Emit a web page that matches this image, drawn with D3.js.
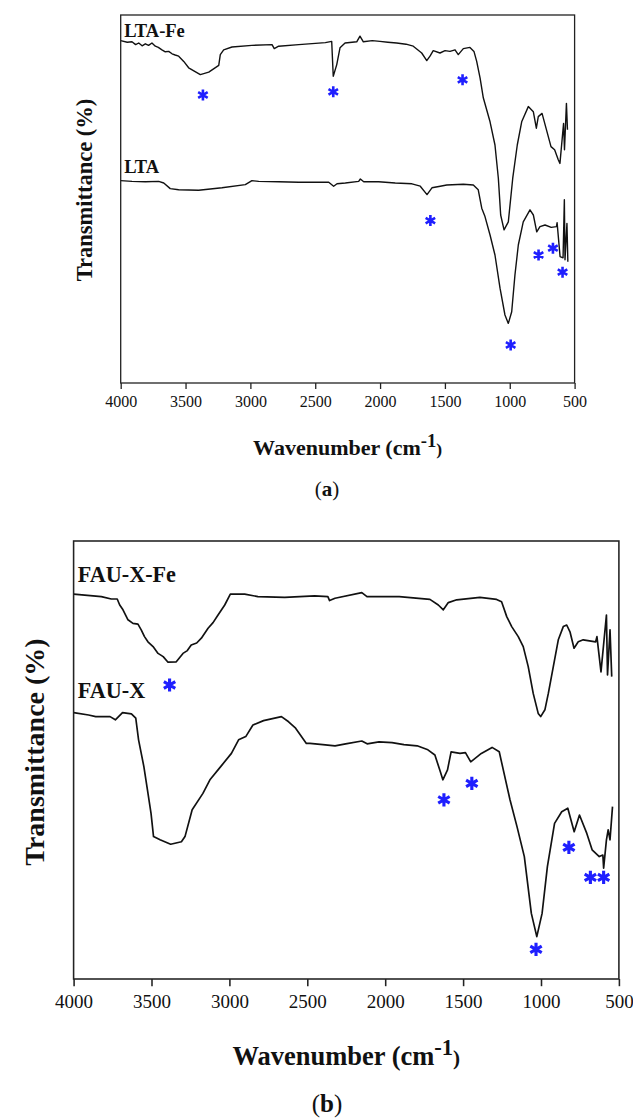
<!DOCTYPE html>
<html>
<head>
<meta charset="utf-8">
<script src="https://cdn.jsdelivr.net/npm/d3@7"></script>
<style>
    body { margin: 0; background: white; }
    svg { display: block; }
    text { font-family: "Liberation Serif", "Times New Roman", serif; fill: #111; }
</style>
</head>
<body>
<svg id="figure" width="633" height="1120"></svg>
<script>
// ---------- data (wavenumber in cm-1, transmittance in arbitrary units) ----------
const ltaFeWave = [4000, 3950, 3913, 3885, 3861, 3835, 3810, 3785, 3759, 3733, 3710, 3682, 3656, 3630, 3604, 3580, 3553, 3514, 3476, 3386, 3321, 3244, 3232, 3206, 3142, 2988, 2833, 2816, 2782, 2627, 2422, 2373, 2361, 2334, 2309, 2270, 2180, 2155, 2129, 2060, 2001, 1940, 1872, 1800, 1744, 1679, 1640, 1615, 1590, 1538, 1499, 1461, 1422, 1397, 1358, 1307, 1276, 1255, 1229, 1204, 1152, 1114, 1088, 1070, 1044, 1011, 977, 942, 908, 857, 818, 795, 780, 751, 682, 654, 626, 613, 585, 578, 563, 555];
const ltaFeT = [85.6, 85.2, 85.3, 84.6, 85.0, 84.3, 84.8, 84.4, 85.0, 84.2, 83.9, 83.3, 82.8, 82.9, 82.3, 82.0, 81.7, 80.4, 78.8, 77.1, 77.7, 79.4, 82.1, 83.3, 84.0, 84.4, 84.6, 83.6, 84.2, 84.6, 85.1, 85.4, 76.7, 79.6, 83.8, 85.0, 85.3, 86.7, 85.3, 85.6, 85.4, 85.2, 85.0, 84.7, 84.2, 82.5, 80.6, 81.7, 83.1, 82.5, 83.1, 82.9, 83.3, 82.1, 83.6, 83.9, 82.9, 80.4, 76.3, 71.3, 65.3, 59.5, 51.2, 42.0, 38.3, 40.3, 51.2, 59.5, 65.3, 69.1, 67.8, 63.7, 66.6, 67.4, 59.1, 58.3, 55.8, 54.9, 64.9, 58.3, 69.9, 63.3];

const ltaWave = [4000, 3913, 3810, 3707, 3668, 3618, 3553, 3399, 3219, 3039, 2988, 2936, 2782, 2627, 2396, 2358, 2332, 2268, 2165, 2152, 2126, 2011, 1883, 1754, 1690, 1638, 1600, 1536, 1486, 1358, 1281, 1243, 1216, 1191, 1152, 1114, 1075, 1037, 1011, 985, 960, 934, 896, 844, 818, 792, 767, 728, 680, 640, 635, 612, 589, 579, 574, 559, 552];
const ltaT = [50.6, 50.4, 50.3, 50.4, 50.0, 48.6, 48.3, 48.2, 48.8, 49.6, 50.6, 50.4, 50.3, 50.2, 50.2, 49.2, 49.8, 50.0, 50.4, 51.0, 50.3, 50.3, 50.0, 49.8, 49.2, 47.1, 48.8, 49.2, 49.5, 49.7, 49.5, 48.3, 43.7, 41.6, 37.0, 32.0, 23.7, 17.0, 14.9, 17.8, 27.0, 34.5, 40.3, 43.3, 42.0, 37.8, 39.1, 39.5, 38.9, 39.1, 40.1, 31.6, 31.3, 45.8, 30.8, 39.9, 30.3];

const fauXFeWave = [4000, 3822, 3758, 3720, 3704, 3683, 3651, 3619, 3587, 3566, 3545, 3523, 3490, 3458, 3425, 3394, 3341, 3298, 3270, 3245, 3210, 3180, 3137, 3105, 3073, 3030, 2994, 2902, 2817, 2645, 2453, 2368, 2357, 2322, 2150, 2117, 1910, 1713, 1659, 1627, 1595, 1541, 1392, 1285, 1253, 1220, 1188, 1146, 1114, 1082, 1050, 1018, 1002, 975, 953, 921, 889, 857, 835, 814, 788, 761, 729, 649, 641, 615, 580, 573, 557, 546];
const fauXFeT = [96.2, 95.6, 95.0, 95.0, 93.5, 92.3, 89.8, 88.9, 88.7, 87.3, 85.6, 84.3, 83.1, 81.4, 80.6, 79.2, 79.3, 81.4, 82.1, 83.5, 84.0, 85.2, 87.7, 89.1, 91.0, 93.5, 96.2, 96.2, 95.6, 95.4, 95.8, 95.6, 94.6, 95.2, 96.6, 95.6, 95.6, 94.9, 93.5, 92.3, 94.1, 94.8, 95.4, 94.9, 94.3, 90.6, 88.1, 85.6, 83.1, 78.1, 71.4, 66.4, 65.6, 67.3, 71.4, 78.1, 84.8, 88.1, 88.5, 86.8, 82.7, 84.3, 84.8, 84.3, 85.6, 76.8, 91.0, 76.0, 87.3, 75.6];

const fauXWave = [4000, 3904, 3858, 3766, 3732, 3686, 3629, 3601, 3583, 3549, 3526, 3503, 3487, 3445, 3377, 3308, 3285, 3239, 3170, 3125, 3056, 2987, 2941, 2895, 2849, 2781, 2666, 2620, 2575, 2506, 2483, 2400, 2322, 2254, 2150, 2116, 2040, 1956, 1880, 1795, 1726, 1681, 1646, 1630, 1600, 1577, 1520, 1485, 1451, 1383, 1314, 1268, 1199, 1154, 1107, 1062, 1027, 993, 959, 913, 867, 828, 787, 753, 706, 672, 626, 603, 598, 580, 569, 557, 541];
const fauXT = [66.6, 66.0, 65.6, 65.6, 64.8, 66.6, 66.3, 65.2, 59.8, 53.1, 47.3, 41.4, 35.6, 34.8, 33.7, 34.3, 35.6, 42.3, 46.4, 49.8, 53.1, 56.4, 59.8, 60.6, 63.5, 64.6, 65.6, 64.3, 62.7, 58.9, 58.9, 58.6, 58.3, 58.8, 59.5, 58.8, 59.3, 59.1, 58.6, 58.3, 57.3, 56.0, 51.8, 49.8, 52.3, 56.8, 56.4, 56.6, 54.3, 56.4, 57.9, 56.8, 44.8, 38.1, 30.6, 16.4, 10.6, 16.4, 28.1, 38.9, 41.8, 42.7, 36.8, 41.0, 36.4, 32.3, 30.6, 31.0, 27.7, 34.8, 37.3, 34.8, 43.1];

// band markers (asterisks)
const ltaStarWave = [3366, 2361, 1364, 1612, 778, 667, 593, 993];
const ltaStarT = [72.0, 72.8, 75.8, 40.6, 32.0, 33.7, 27.7, 9.5];
const fauStarWave = [3384, 1623, 1444, 821, 683, 598, 1032];
const fauStarT = [73.5, 44.8, 48.9, 32.9, 25.4, 25.4, 7.4];

const tickValues = [4000, 3500, 3000, 2500, 2000, 1500, 1000, 500];
const topSeriesNames = ["LTA-Fe", "LTA"];
const bottomSeriesNames = ["FAU-X-Fe", "FAU-X"];

const zip = (xs, ys) => xs.map((x, i) => ({ w: x, t: ys[i] }));

const svg = d3.select("#figure");
const starColor = "#1f1fff";
const lineColor = "#111";

// one panel of the figure; k scales fonts between the two panels
const drawPanel = (p) => {
    const x = d3.scaleLinear().domain([4000, 500]).range([p.left, p.right]);
    const y = d3.scaleLinear().domain([0, (p.bottom - p.top) / 4]).range([p.bottom, p.top]);
    const g = svg.append("g");
    const line = d3.line().x(d => x(d.w)).y(d => y(d.t));

    p.series.forEach(s => {
        g.append("path")
            .datum(zip(s.wave, s.t))
            .attr("d", line)
            .attr("fill", "none")
            .attr("stroke", lineColor)
            .attr("stroke-width", 1.4 * p.k)
            .attr("stroke-linejoin", "round");
    });

    // series labels
    p.series.forEach(s => {
        g.append("text")
            .attr("x", p.left + 3.5 * p.k)
            .attr("y", s.labelY)
            .attr("font-size", 18.5 * p.k)
            .attr("font-weight", "bold")
            .text(s.name);
    });

    // asterisks
    g.selectAll(".star")
        .data(zip(p.starWave, p.starT))
        .enter()
        .append("path")
        .attr("class", "star")
        .attr("d", d3.symbol(d3.symbolAsterisk, 85 * p.k * p.k))
        .attr("transform", d => `translate(${x(d.w)},${y(d.t)})`)
        .attr("fill", "none")
        .attr("stroke", starColor)
        .attr("stroke-width", 2.6 * p.k);

    // frame
    g.append("rect")
        .attr("x", p.left).attr("y", p.top)
        .attr("width", p.right - p.left).attr("height", p.bottom - p.top)
        .attr("fill", "none")
        .attr("stroke", "#222")
        .attr("stroke-width", 1.3 * p.k);

    const axis = g.append("g")
        .attr("transform", `translate(0,${p.bottom})`)
        .call(d3.axisBottom(x).tickValues(tickValues).tickFormat(d3.format("d"))
            .tickSize(6 * p.k).tickPadding(p.tickPad));
    axis.select(".domain").remove();
    axis.selectAll("line").attr("stroke", "#222").attr("stroke-width", 1.3 * p.k);
    axis.selectAll("text")
        .attr("font-size", p.tickFont)
        .attr("fill", "#222")
        .style("font-family", "'Liberation Serif', serif");

    // x title with superscript
    const xt = g.append("text")
        .attr("x", (p.left + p.right) / 2)
        .attr("y", p.xTitleY)
        .attr("text-anchor", "middle")
        .attr("font-size", p.xTitleFont)
        .attr("font-weight", "bold");
    xt.append("tspan").text("Wavenumber (cm");
    xt.append("tspan").attr("font-size", p.xTitleFont * 0.85).attr("dy", -p.xTitleFont * 0.38).text("-1");
    xt.append("tspan").attr("font-size", p.xTitleFont * 0.8).attr("dy", p.xTitleFont * 0.38).text(")");

    // y title
    g.append("text")
        .attr("transform", `translate(${p.yTitleX},${p.yTitleCY}) rotate(-90)`)
        .attr("text-anchor", "middle")
        .attr("font-size", p.yTitleFont)
        .attr("font-weight", "bold")
        .text("Transmittance (%)");

    // panel letter
    const lt = g.append("text")
        .attr("x", 327)
        .attr("y", p.letterY)
        .attr("text-anchor", "middle")
        .attr("font-size", p.letterFont);
    lt.append("tspan").text("(");
    lt.append("tspan").attr("font-weight", "bold").text(p.letter);
    lt.append("tspan").text(")");
};

drawPanel({
    left: 120.7, right: 574.6, top: 15, bottom: 383, k: 1,
    series: [
        { name: topSeriesNames[0], wave: ltaFeWave, t: ltaFeT, labelY: 36.7 },
        { name: topSeriesNames[1], wave: ltaWave, t: ltaT, labelY: 173.3 }
    ],
    starWave: ltaStarWave, starT: ltaStarT,
    tickFont: 16, tickPad: 7,
    xTitleY: 455, xTitleFont: 22,
    yTitleX: 92, yTitleCY: 190, yTitleFont: 22.5,
    letter: "a", letterY: 496, letterFont: 21
});

drawPanel({
    left: 73.6, right: 618.9, top: 541, bottom: 979, k: 1.2,
    series: [
        { name: bottomSeriesNames[0], wave: fauXFeWave, t: fauXFeT, labelY: 581.7 },
        { name: bottomSeriesNames[1], wave: fauXWave, t: fauXT, labelY: 698.3 }
    ],
    starWave: fauStarWave, starT: fauStarT,
    tickFont: 19, tickPad: 8.5,
    xTitleY: 1065, xTitleFont: 26.5,
    yTitleX: 44, yTitleCY: 752, yTitleFont: 28,
    letter: "b", letterY: 1112, letterFont: 25
});
</script>
</body>
</html>
